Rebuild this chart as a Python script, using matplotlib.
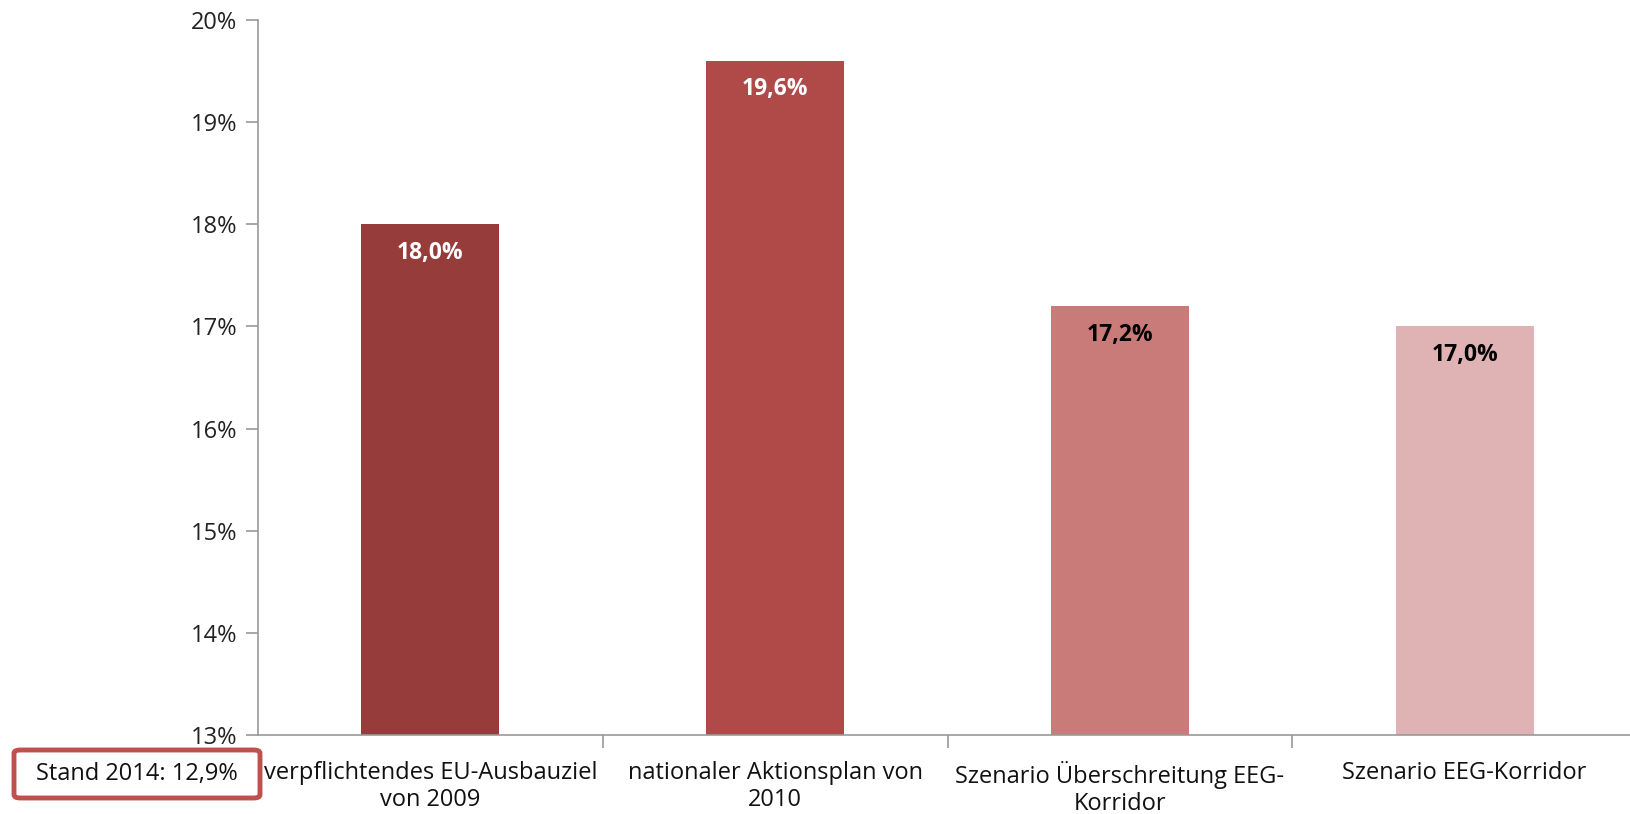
import matplotlib
matplotlib.use("Agg")
import matplotlib.pyplot as plt
from matplotlib.patches import FancyBboxPatch
from matplotlib import font_manager

names = {f.name for f in font_manager.fontManager.ttflist}
fam = "Liberation Sans Narrow" if "Liberation Sans Narrow" in names else "Open Sans"
plt.rcParams['font.family'] = [fam, 'DejaVu Sans']

categories = ["verpflichtendes EU-Ausbauziel\nvon 2009",
              "nationaler Aktionsplan von\n2010",
              "Szenario Überschreitung EEG-\nKorridor",
              "Szenario EEG-Korridor"]
values = [18.0, 19.6, 17.2, 17.0]
value_labels = ["18,0%", "19,6%", "17,2%", "17,0%"]
colors = ["#963C3A", "#B04A48", "#C97B7A", "#DFB3B3"]
label_colors = ["white", "white", "black", "black"]
yticks = [13, 14, 15, 16, 17, 18, 19, 20]
ytick_labels = ["13%", "14%", "15%", "16%", "17%", "18%", "19%", "20%"]

fig = plt.figure(figsize=(16.3, 8.14), dpi=100)
ax = fig.add_axes([258/1630, 1-735/814, 1379/1630, 715/814])
x = list(range(len(values)))
ax.bar(x, [v - 13 for v in values], bottom=13, width=0.4, color=colors)
ax.set_xlim(-0.5, 3.5)
ax.set_ylim(13, 20)
ax.set_yticks(yticks)
ax.set_yticklabels(ytick_labels, fontsize=17, color="#222222")
ax.set_xticks(x)
ax.set_xticklabels(categories, fontsize=17, color="#111111", linespacing=1.15)
ax.set_xticks([0.5, 1.5, 2.5], minor=True)
ax.tick_params(axis='x', which='major', length=0, pad=19)
ax.tick_params(axis='x', which='minor', length=9, color="#999999", width=1.2)
ax.tick_params(axis='y', length=9, color="#999999", width=1.2, pad=6)
for s in ["top", "right"]:
    ax.spines[s].set_visible(False)
for s in ["left", "bottom"]:
    ax.spines[s].set_color("#999999")
    ax.spines[s].set_linewidth(1.2)

for xi, v, lab, lc in zip(x, values, value_labels, label_colors):
    ax.text(xi, v - 0.28, lab, ha="center", va="center", fontsize=16.5,
            fontweight="bold", color=lc)

box = FancyBboxPatch((14/1630, 1-798/814), 246/1630, 48/814,
                     boxstyle="round,pad=0,rounding_size=0.004",
                     transform=fig.transFigure, facecolor="white",
                     edgecolor="#C0504D", linewidth=3.5)
fig.patches.append(box)
fig.text(137/1630, 1-774/814, "Stand 2014: 12,9%", ha="center", va="center",
         fontsize=17, color="#111111")

fig.savefig("out.png", dpi=100)
